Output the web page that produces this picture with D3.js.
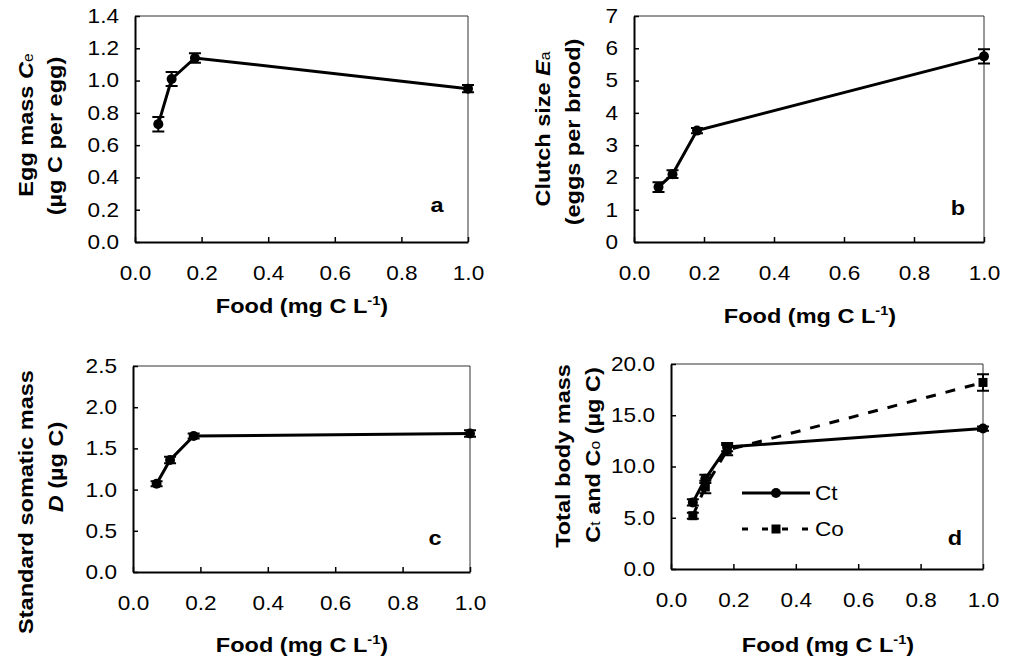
<!DOCTYPE html>
<html>
<head>
<meta charset="utf-8">
<script src="https://cdn.jsdelivr.net/npm/d3@7"></script>
<style>
  body { margin: 0; background: #fff; }
  svg { font-family: "Liberation Sans", Arial, sans-serif; }
</style>
</head>
<body>
<svg id="chart" width="1010" height="659"></svg>
<script>
// food levels (mg C / L)
const food = [0.07, 0.11, 0.18, 1.0];

// panel a: egg mass
const eggMass = [0.73, 1.01, 1.14, 0.95];
const eggMassErr = [0.045, 0.043, 0.03, 0.022];

// panel b: clutch size
const clutch = [1.7, 2.1, 3.45, 5.75];
const clutchErr = [0.15, 0.12, 0.08, 0.22];

// panel c: standard somatic mass
const somatic = [1.07, 1.36, 1.65, 1.68];
const somaticErr = [0.03, 0.04, 0.03, 0.04];

// panel d: total body mass, two series
const totalCt = [6.5, 8.8, 11.9, 13.7];
const totalCtErr = [0.3, 0.4, 0.4, 0.2];
const totalCo = [5.2, 8.0, 11.6, 18.2];
const totalCoErr = [0.3, 0.6, 0.5, 0.8];

// tick labels
const xTicks = [0, 0.2, 0.4, 0.6, 0.8, 1.0];
const yTicksA = [0, 0.2, 0.4, 0.6, 0.8, 1.0, 1.2, 1.4];
const yTicksB = [0, 1, 2, 3, 4, 5, 6, 7];
const yTicksC = [0, 0.5, 1.0, 1.5, 2.0, 2.5];
const yTicksD = [0, 5, 10, 15, 20];

const svg = d3.select('#chart');

// the original figure's lettering is a bit wider than plain Arial
const TICK_SX = 1.13;
const TITLE_SX = 1.12;

function stretch (sel, sx) {
  sel.each(function () {
    const t = d3.select(this);
    const x = +t.attr('x') || 0;
    const y = +t.attr('y') || 0;
    t.attr('transform', `translate(${x},${y}) scale(${sx},1) translate(${-x},${-y})`);
  });
}

function drawPanel (p) {
  const g = svg.append('g');
  const x = d3.scaleLinear().domain([0, 1]).range([p.left, p.right]);
  const y = d3.scaleLinear().domain([0, p.yMax]).range([p.bottom, p.top]);

  // box top and right
  g.append('path')
    .attr('d', `M${p.left},${p.top}H${p.right}V${p.bottom}`)
    .attr('fill', 'none')
    .attr('stroke', '#333')
    .attr('stroke-width', 1);

  // x axis
  const xa = g.append('g')
    .attr('transform', `translate(0,${p.bottom})`)
    .call(d3.axisBottom(x).tickValues(xTicks).tickFormat(d3.format('.1f'))
      .tickSize(-5).tickSizeOuter(0).tickPadding(24));
  // y axis
  const ya = g.append('g')
    .attr('transform', `translate(${p.left},0)`)
    .call(d3.axisLeft(y).tickValues(p.yTicks).tickFormat(d3.format(p.yFmt))
      .tickSize(-5).tickSizeOuter(0).tickPadding(16));
  [xa, ya].forEach(a => {
    a.select('.domain').attr('stroke', '#000').attr('stroke-width', 2);
    a.selectAll('.tick line').attr('stroke', '#000').attr('stroke-width', 1.5);
    a.selectAll('.tick text').attr('fill', '#000')
      .style('font-size', '20px')
      .call(stretch, TICK_SX);
  });

  // series
  p.series.forEach(s => {
    const pts = food.map((f, i) => ({ x: f, y: s.values[i], e: s.err[i] }));
    g.append('path')
      .datum(pts)
      .attr('fill', 'none')
      .attr('stroke', '#000')
      .attr('stroke-width', 3)
      .attr('stroke-dasharray', s.dash ? '10,10' : null)
      .attr('d', d3.line().x(d => x(d.x)).y(d => y(d.y)));

    const eb = g.append('g').attr('stroke', '#000').attr('stroke-width', 2);
    pts.forEach(d => {
      const cx = x(d.x);
      eb.append('path')
        .attr('d', `M${cx},${y(d.y - d.e)}V${y(d.y + d.e)}` +
          `M${cx - 6},${y(d.y - d.e)}H${cx + 6}` +
          `M${cx - 6},${y(d.y + d.e)}H${cx + 6}`);
    });

    pts.forEach(d => {
      if (s.marker === 'square') {
        g.append('rect')
          .attr('x', x(d.x) - 4.5).attr('y', y(d.y) - 4.5)
          .attr('width', 9).attr('height', 9)
          .attr('fill', '#000');
      } else {
        g.append('circle')
          .attr('cx', x(d.x)).attr('cy', y(d.y)).attr('r', 5)
          .attr('fill', '#000');
      }
    });
  });

  // x title
  const xt = g.append('text')
    .attr('x', p.xTitle[0]).attr('y', p.xTitle[1])
    .attr('text-anchor', 'middle')
    .style('font-size', '21px').style('font-weight', 'bold');
  xt.append('tspan').text('Food (mg C L');
  xt.append('tspan').text('-1').attr('dy', -8).style('font-size', '13px');
  xt.append('tspan').text(')').attr('dy', 8);
  xt.call(stretch, TITLE_SX);

  // y title (two lines, rotated)
  p.yTitle.forEach(line => {
    const t = g.append('text')
      .attr('transform', `translate(${line.x},${line.y}) rotate(-90) scale(${TITLE_SX},1)`)
      .attr('text-anchor', 'middle')
      .style('font-size', '21px').style('font-weight', 'bold');
    line.parts.forEach(part => {
      const ts = t.append('tspan').text(part.t);
      if (part.italic) ts.style('font-style', 'italic');
      if (part.sub) {
        ts.style('font-size', '14px').style('font-weight', 'normal');
      }
    });
  });

  // panel letter
  g.append('text')
    .attr('x', p.letter[1]).attr('y', p.letter[2])
    .attr('text-anchor', 'middle')
    .style('font-size', '21px').style('font-weight', 'bold')
    .text(p.letter[0])
    .call(stretch, TITLE_SX);

  return { g, x, y };
}

drawPanel({
  left: 135, right: 468, top: 16, bottom: 242, yMax: 1.4,
  yTicks: yTicksA, yFmt: '.1f',
  series: [{ values: eggMass, err: eggMassErr }],
  xTitle: [302, 313],
  yTitle: [
    { x: 33, y: 125, parts: [{ t: 'Egg mass ' }, { t: 'C', italic: true }, { t: 'e', sub: true }] },
    { x: 62, y: 136, parts: [{ t: '(µg C per egg)' }] }
  ],
  letter: ['a', 437, 212]
});

drawPanel({
  left: 634, right: 984, top: 16, bottom: 242, yMax: 7,
  yTicks: yTicksB, yFmt: 'd',
  series: [{ values: clutch, err: clutchErr }],
  xTitle: [810, 323],
  yTitle: [
    { x: 550, y: 129, parts: [{ t: 'Clutch size ' }, { t: 'E', italic: true }, { t: 'a', sub: true }] },
    { x: 580, y: 132, parts: [{ t: '(eggs per brood)' }] }
  ],
  letter: ['b', 958, 215]
});

drawPanel({
  left: 133, right: 470, top: 366, bottom: 572, yMax: 2.5,
  yTicks: yTicksC, yFmt: '.1f',
  series: [{ values: somatic, err: somaticErr }],
  xTitle: [302, 652],
  yTitle: [
    { x: 33, y: 502, parts: [{ t: 'Standard somatic mass' }] },
    { x: 63, y: 467, parts: [{ t: 'D', italic: true }, { t: ' (µg C)' }] }
  ],
  letter: ['c', 435, 545]
});

const pd = drawPanel({
  left: 671, right: 983, top: 364, bottom: 569, yMax: 20,
  yTicks: yTicksD, yFmt: '.1f',
  series: [
    { values: totalCo, err: totalCoErr, dash: true, marker: 'square' },
    { values: totalCt, err: totalCtErr }
  ],
  xTitle: [828, 652],
  yTitle: [
    { x: 570, y: 456, parts: [{ t: 'Total body mass' }] },
    { x: 600, y: 455, parts: [{ t: 'C' }, { t: 't', sub: true }, { t: ' and C' }, { t: 'o', sub: true }, { t: ' (µg C)' }] }
  ],
  letter: ['d', 955, 545]
});

// legend for panel d
const legend = [
  { name: 'Ct', dash: false, marker: 'circle', y: 493 },
  { name: 'Co', dash: true, marker: 'square', y: 529 }
];
legend.forEach(l => {
  pd.g.append('line')
    .attr('x1', 742).attr('x2', 810).attr('y1', l.y).attr('y2', l.y)
    .attr('stroke', '#000').attr('stroke-width', 3)
    .attr('stroke-dasharray', l.dash ? '6,14' : null);
  if (l.marker === 'square') {
    pd.g.append('rect').attr('x', 771.5).attr('y', l.y - 4.5)
      .attr('width', 9).attr('height', 9).attr('fill', '#000');
  } else {
    pd.g.append('circle').attr('cx', 776).attr('cy', l.y).attr('r', 5).attr('fill', '#000');
  }
  pd.g.append('text')
    .attr('x', 815).attr('y', l.y + 7)
    .style('font-size', '20px')
    .text(l.name)
    .call(stretch, TICK_SX);
});
</script>
</body>
</html>
